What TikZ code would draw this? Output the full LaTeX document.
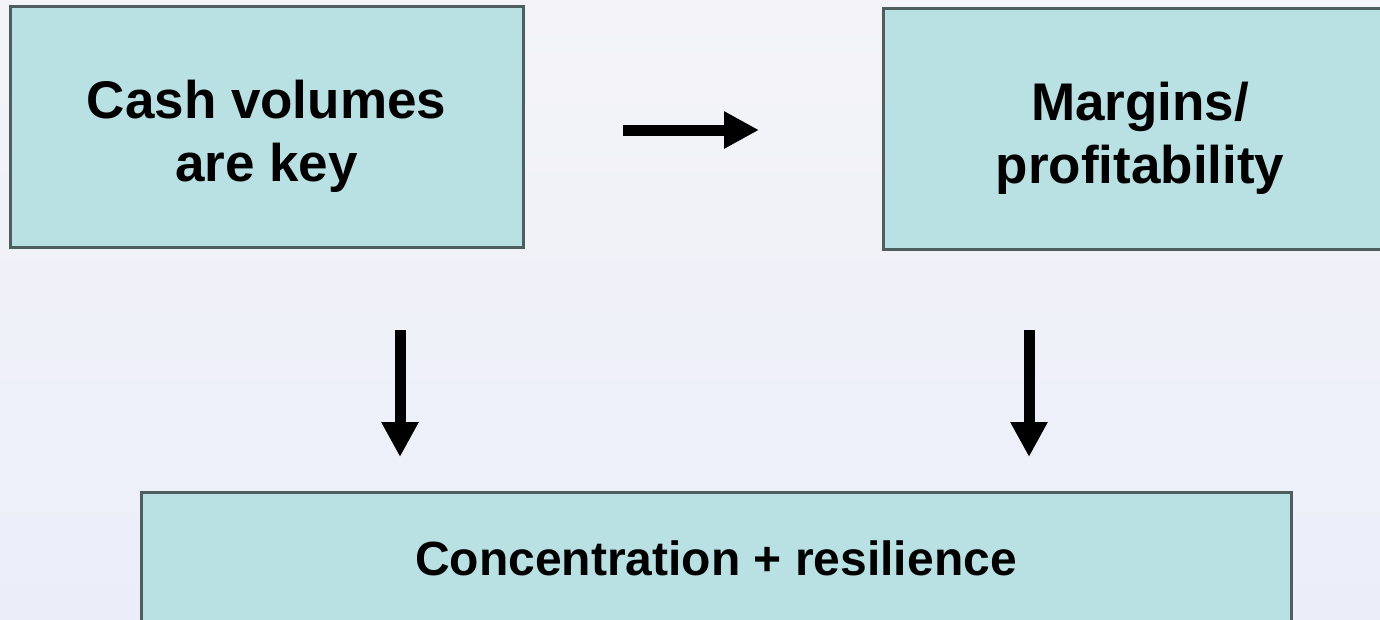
\documentclass[tikz,border=0pt]{standalone}
\usepackage{fontspec}
\setmainfont{Liberation Sans}
\usetikzlibrary{arrows.meta}
\definecolor{boxfill}{RGB}{185,224,227}
\definecolor{boxline}{RGB}{78,94,95}
\definecolor{bgtop}{RGB}{244,244,248}
\definecolor{bgbottom}{RGB}{235,238,249}
\newcommand{\topstrut}{\rule{0pt}{57pt}}

\begin{document}
\begin{tikzpicture}[x=1pt,y=-1pt,
 box/.style={draw=boxline,fill=boxfill,line width=3pt,inner sep=0pt,align=center,
  font=\bfseries\fontsize{53}{63}\selectfont},
 bigarrow/.style={line width=11pt,-{Triangle[length=35pt,width=35pt]}}]
\useasboundingbox (0,0) rectangle (1380,619);
\clip (0,0) rectangle (1380,619);
\shade[top color=bgtop,bottom color=bgbottom] (0,0) rectangle (1380,619);
\node[box,minimum width=513pt,minimum height=241pt](cash) at (266.5,126.5){\topstrut Cash volumes\\are key};
\node[box,minimum width=514pt,minimum height=241pt](margins) at (1140,128.5){\topstrut Margins/\\profitability};
\node[box,minimum width=1150pt,minimum height=132pt,font=\bfseries\fontsize{48}{58}\selectfont](conc) at (716,558){Concentration + resilience};
% free-standing arrows between the boxes
\coordinate (h0) at (623,130); \coordinate (h1) at (759,130);
\coordinate (l0) at (400,330); \coordinate (l1) at (400,457);
\coordinate (r0) at (1029,330); \coordinate (r1) at (1029,457);
\draw[bigarrow](h0)--(h1);
\draw[bigarrow](l0)--(l1);
\draw[bigarrow](r0)--(r1);
\end{tikzpicture}
\end{document}
